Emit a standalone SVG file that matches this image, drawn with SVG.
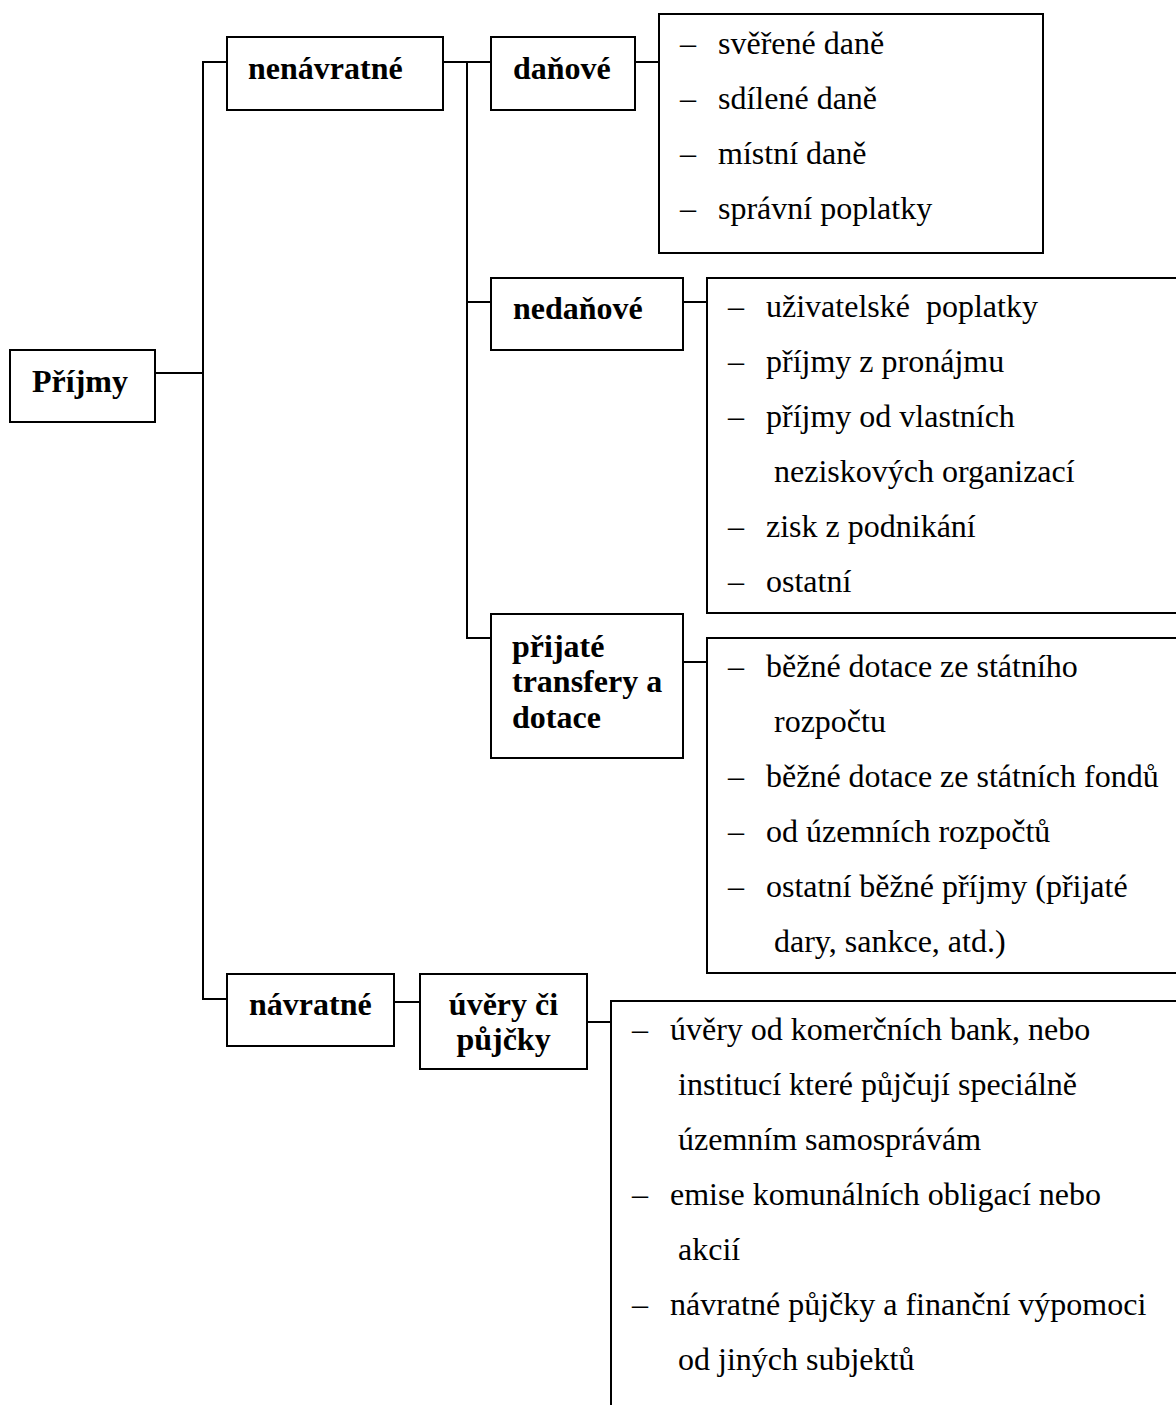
<svg xmlns="http://www.w3.org/2000/svg" width="1176" height="1405" viewBox="0 0 1176 1405">
<style>
.box{fill:#fff;stroke:#000;stroke-width:2}
.ln{fill:none;stroke:#000;stroke-width:2}
.b{font-family:"Liberation Serif","Times New Roman",serif;font-size:32px;font-weight:bold;fill:#000}
.t{font-family:"Liberation Serif","Times New Roman",serif;font-size:32px;fill:#000}
</style>
<rect width="1176" height="1405" fill="#fff"/>
<g id="connectors">
<path class="ln" d="M155,373 H203"/>
<path class="ln" d="M227,62 H203 V999 H227"/>
<path class="ln" d="M443,62 H491"/>
<path class="ln" d="M467,62 V638 H491"/>
<path class="ln" d="M467,302 H491"/>
<path class="ln" d="M635,62 H659"/>
<path class="ln" d="M683,302 H707"/>
<path class="ln" d="M683,662 H707"/>
<path class="ln" d="M394,1002 H420"/>
<path class="ln" d="M587,1022 H611"/>
</g>
<g id="prijmy">
<rect class="box" x="10" y="350" width="145" height="72"/>
<text class="b" x="32" y="392">Příjmy</text>
</g>
<g id="nenavratne">
<rect class="box" x="227" y="37" width="216" height="73"/>
<text class="b" x="248" y="79">nenávratné</text>
</g>
<g id="danove">
<rect class="box" x="491" y="37" width="144" height="73"/>
<text class="b" x="513" y="79">daňové</text>
</g>
<g id="danove-list">
<rect class="box" x="659" y="14" width="384" height="239"/>
<text class="t" x="680" y="54">–</text><text class="t" x="718" y="54">svěřené daně</text>
<text class="t" x="680" y="109">–</text><text class="t" x="718" y="109">sdílené daně</text>
<text class="t" x="680" y="164">–</text><text class="t" x="718" y="164">místní daně</text>
<text class="t" x="680" y="219">–</text><text class="t" x="718" y="219">správní poplatky</text>
</g>
<g id="nedanove">
<rect class="box" x="491" y="278" width="192" height="72"/>
<text class="b" x="513" y="319">nedaňové</text>
</g>
<g id="nedanove-list">
<rect class="box" x="707" y="278" width="480" height="335"/>
<text class="t" x="728" y="317">–</text><text class="t" x="766" y="317" xml:space="preserve">uživatelské  poplatky</text>
<text class="t" x="728" y="372">–</text><text class="t" x="766" y="372">příjmy z pronájmu</text>
<text class="t" x="728" y="427">–</text><text class="t" x="766" y="427">příjmy od vlastních</text>
<text class="t" x="774" y="482">neziskových organizací</text>
<text class="t" x="728" y="537">–</text><text class="t" x="766" y="537">zisk z podnikání</text>
<text class="t" x="728" y="592">–</text><text class="t" x="766" y="592">ostatní</text>
</g>
<g id="prijate">
<rect class="box" x="491" y="614" width="192" height="144"/>
<text class="b" x="512" y="657">přijaté</text>
<text class="b" x="512" y="692">transfery a</text>
<text class="b" x="512" y="728">dotace</text>
</g>
<g id="prijate-list">
<rect class="box" x="707" y="638" width="480" height="335"/>
<text class="t" x="728" y="677">–</text><text class="t" x="766" y="677">běžné dotace ze státního</text>
<text class="t" x="774" y="732">rozpočtu</text>
<text class="t" x="728" y="787">–</text><text class="t" x="766" y="787">běžné dotace ze státních fondů</text>
<text class="t" x="728" y="842">–</text><text class="t" x="766" y="842">od územních rozpočtů</text>
<text class="t" x="728" y="897">–</text><text class="t" x="766" y="897">ostatní běžné příjmy (přijaté</text>
<text class="t" x="774" y="952">dary, sankce, atd.)</text>
</g>
<g id="navratne">
<rect class="box" x="227" y="974" width="167" height="72"/>
<text class="b" x="249" y="1015">návratné</text>
</g>
<g id="uvery">
<rect class="box" x="420" y="974" width="167" height="95"/>
<text class="b" x="503.5" y="1015" text-anchor="middle">úvěry či</text>
<text class="b" x="503.5" y="1050" text-anchor="middle">půjčky</text>
</g>
<g id="uvery-list">
<rect class="box" x="611" y="1001" width="600" height="500"/>
<text class="t" x="632" y="1040">–</text><text class="t" x="670" y="1040">úvěry od komerčních bank, nebo</text>
<text class="t" x="678" y="1095">institucí které půjčují speciálně</text>
<text class="t" x="678" y="1150">územním samosprávám</text>
<text class="t" x="632" y="1205">–</text><text class="t" x="670" y="1205">emise komunálních obligací nebo</text>
<text class="t" x="678" y="1260">akcií</text>
<text class="t" x="632" y="1315">–</text><text class="t" x="670" y="1315">návratné půjčky a finanční výpomoci</text>
<text class="t" x="678" y="1370">od jiných subjektů</text>
</g>
</svg>
